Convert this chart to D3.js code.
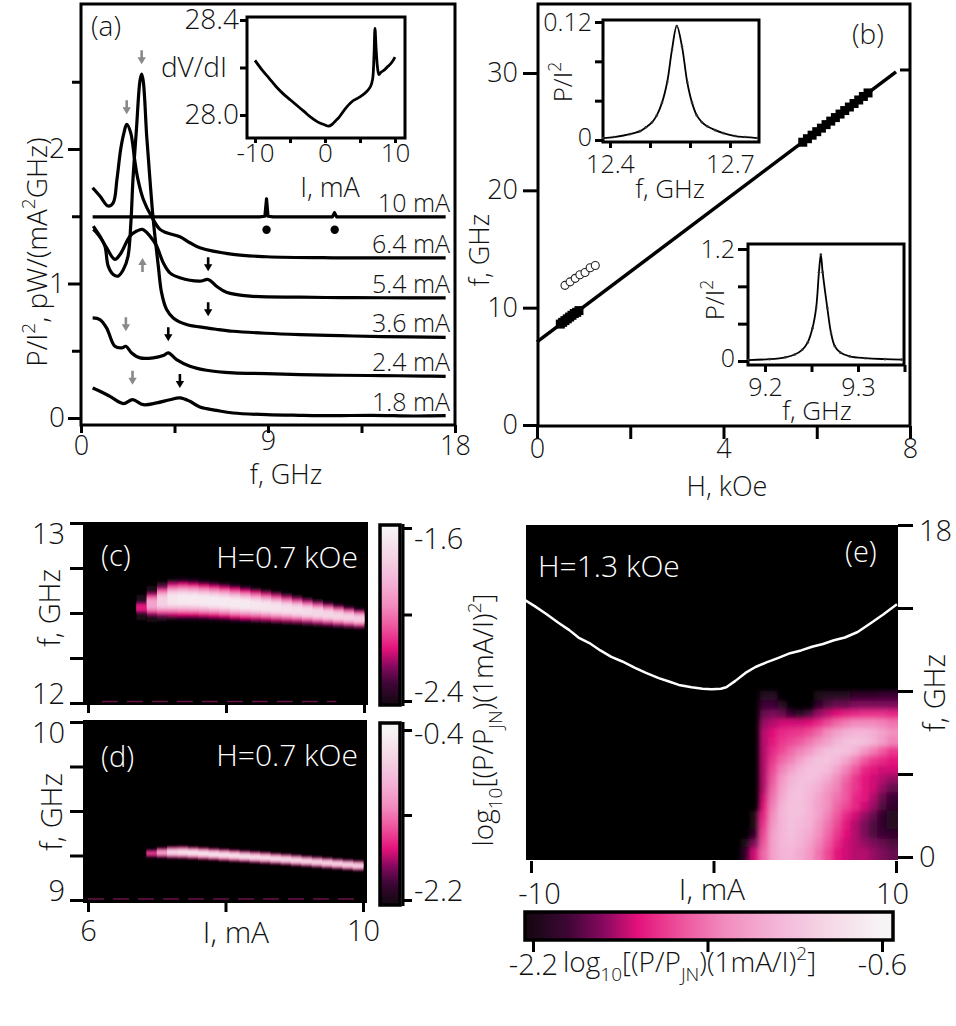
<!DOCTYPE html>
<html>
<head>
<meta charset="utf-8">
<script src="https://cdn.jsdelivr.net/npm/d3@7"></script>
<style>
  body { margin: 0; background: #fff; }
  svg text { font-family: "Open Sans", "DejaVu Sans", sans-serif; font-weight: 300; }
</style>
</head>
<body>
<svg id="fig" width="956" height="1026"></svg>
<script>
// MARK: Panel (a) spectra, P/I^2 vs f (GHz), curves offset vertically.

const curveNames = ['1.8 mA', '2.4 mA', '3.6 mA', '5.4 mA', '6.4 mA', '10 mA']

const f18 = [0.56, 0.91, 1.39, 2.04, 2.48, 3.0, 3.64, 4.28, 4.76, 5.24, 5.72, 6.52, 7.32, 8.93, 10.5, 12.13, 14.0, 16.0, 17.55]
const p18 = [0.223, 0.199, 0.161, 0.107, 0.136, 0.099, 0.112, 0.136, 0.149, 0.124, 0.082, 0.057, 0.037, 0.025, 0.02, 0.017, 0.02, 0.015, 0.017]

const f24 = [0.56, 0.91, 1.23, 1.63, 1.96, 2.16, 2.44, 2.84, 3.48, 3.96, 4.2, 4.6, 5.24, 6.04, 7.32, 8.9, 10.53, 12.5, 14.5, 16.5, 17.55]
const p24 = [0.744, 0.732, 0.67, 0.533, 0.521, 0.533, 0.484, 0.447, 0.447, 0.464, 0.484, 0.434, 0.385, 0.355, 0.335, 0.33, 0.323, 0.318, 0.315, 0.312, 0.31]

const f36 = [0.59, 0.91, 1.15, 1.31, 1.55, 1.79, 2.04, 2.26, 2.4, 2.5, 2.67, 2.84, 2.92, 3.0, 3.16, 3.32, 3.48, 3.72, 3.88, 4.12, 4.44, 5.08, 6.04, 6.5, 7.32, 8.9, 10.53, 12.5, 14.5, 17.55]
const p36 = [1.427, 1.352, 1.278, 1.129, 1.067, 1.055, 1.104, 1.2, 1.45, 1.77, 2.15, 2.51, 2.556, 2.5, 2.1, 1.77, 1.47, 1.13, 0.93, 0.806, 0.744, 0.695, 0.67, 0.66, 0.645, 0.63, 0.62, 0.612, 0.605, 0.6]

const f54 = [0.59, 0.75, 0.99, 1.23, 1.63, 1.88, 2.36, 2.68, 2.96, 3.32, 3.64, 3.96, 4.28, 4.76, 5.72, 6.12, 6.52, 7.0, 8.13, 10.53, 12.5, 14.5, 17.55]
const p54 = [1.402, 1.377, 1.328, 1.266, 1.179, 1.216, 1.352, 1.39, 1.402, 1.352, 1.278, 1.154, 1.079, 1.042, 1.017, 1.03, 0.98, 0.935, 0.906, 0.898, 0.895, 0.894, 0.893]

const f64 = [0.56, 0.91, 1.31, 1.55, 1.73, 1.91, 2.07, 2.2, 2.39, 2.58, 2.74, 3.0, 3.4, 3.8, 4.12, 4.76, 5.24, 5.72, 7.32, 8.93, 12.13, 15.0, 17.55]
const p64 = [1.712, 1.65, 1.576, 1.6, 1.774, 1.998, 2.122, 2.184, 2.122, 1.923, 1.774, 1.625, 1.496, 1.402, 1.377, 1.347, 1.303, 1.265, 1.216, 1.199, 1.191, 1.19, 1.191]

const f10 = [0.56, 8.6, 8.85, 8.93, 9.0, 9.25, 12.1, 12.2, 12.3, 17.55]
const p10 = [1.496, 1.496, 1.5, 1.63, 1.5, 1.496, 1.496, 1.526, 1.496, 1.496]

const dotF = [8.93, 12.21]
const dotP = [1.40, 1.40]

// Arrow tips (f, P/I^2), direction (1 = pointing down), gray or black.
const arrowF    = [2.92, 2.2, 2.96, 2.16, 2.48, 6.12, 6.12, 4.2, 4.76]
const arrowP    = [2.63, 2.258, 1.19, 0.645, 0.248, 1.092, 0.757, 0.571, 0.223]
const arrowDir  = [1, 1, -1, 1, 1, 1, 1, 1, 1]
const arrowGray = [true, true, true, true, true, false, false, false, false]

// Inset of (a): dV/dI vs I.
const insI = [-10, -9, -8, -7, -6, -5, -4, -3, -2, -1, 0, 0.5, 1, 1.5, 2, 3, 4, 5, 6, 6.5, 6.8, 7.0, 7.14, 7.3, 7.5, 7.7, 8, 8.5, 9, 9.5, 10]
const insV = [28.23, 28.19, 28.155, 28.12, 28.09, 28.065, 28.04, 28.015, 27.99, 27.97, 27.958, 27.953, 27.96, 27.975, 27.99, 28.03, 28.06, 28.076, 28.1, 28.12, 28.15, 28.25, 28.365, 28.28, 28.2, 28.17, 28.18, 28.19, 28.205, 28.22, 28.244]

// MARK: Panel (b) f vs H.

const sqH = [0.5, 0.55, 0.6, 0.65, 0.7, 0.75, 0.8, 0.85, 0.9, 5.7, 5.8, 5.9, 6.0, 6.1, 6.2, 6.3, 6.4, 6.5, 6.6, 6.7, 6.8, 6.9, 7.0, 7.1]
const sqF = [8.6, 8.75, 8.9, 9.05, 9.2, 9.35, 9.5, 9.6, 9.75, 24.1, 24.4, 24.7, 25.0, 25.3, 25.6, 25.9, 26.2, 26.5, 26.8, 27.1, 27.4, 27.7, 28.0, 28.3]
const circH = [0.6, 0.71, 0.82, 0.92, 1.03, 1.14, 1.25]
const circF = [11.9, 12.2, 12.5, 12.8, 13.0, 13.4, 13.6]
const fitH = [0, 7.7]
const fitF = [7.08, 30.1]

const b1F = [12.383, 12.41, 12.45, 12.475, 12.49, 12.505, 12.517, 12.53, 12.543, 12.555, 12.567, 12.58, 12.593, 12.605, 12.617, 12.63, 12.643, 12.663, 12.683, 12.713, 12.738, 12.768]
const b1P = [0.002, 0.003, 0.006, 0.009, 0.013, 0.018, 0.025, 0.038, 0.059, 0.092, 0.116, 0.095, 0.059, 0.038, 0.025, 0.018, 0.014, 0.01, 0.007, 0.004, 0.003, 0.002]

const b2F = [9.182, 9.205, 9.222, 9.232, 9.24, 9.246, 9.251, 9.255, 9.258, 9.26, 9.262, 9.267, 9.271, 9.275, 9.281, 9.291, 9.308, 9.329, 9.347]
const b2P = [0.01, 0.02, 0.04, 0.07, 0.12, 0.2, 0.35, 0.57, 0.95, 1.14, 0.95, 0.57, 0.3, 0.16, 0.09, 0.05, 0.03, 0.02, 0.015]

// MARK: Panels (c), (d): one column per current step, ridge centre, peak level, half width.

const cI    = [6.7, 6.85, 7.0, 7.15, 7.3, 7.45, 7.6, 7.75, 7.9, 8.05, 8.2, 8.35, 8.5, 8.65, 8.8, 8.95, 9.1, 9.25, 9.4, 9.55, 9.7, 9.85]
const cF    = [12.53, 12.55, 12.565, 12.575, 12.576, 12.574, 12.57, 12.566, 12.561, 12.555, 12.549, 12.543, 12.537, 12.53, 12.523, 12.516, 12.508, 12.5, 12.492, 12.484, 12.476, 12.468]
const cPeak = [-2.1, -1.85, -1.7, -1.62, -1.6, -1.6, -1.6, -1.6, -1.6, -1.6, -1.6, -1.61, -1.62, -1.63, -1.64, -1.65, -1.66, -1.67, -1.68, -1.69, -1.7, -1.71]
const cHalf = [0.07, 0.1, 0.112, 0.116, 0.116, 0.114, 0.112, 0.11, 0.108, 0.106, 0.103, 0.1, 0.097, 0.094, 0.09, 0.086, 0.082, 0.078, 0.074, 0.07, 0.066, 0.062]

const dI    = [6.85, 7.0, 7.15, 7.3, 7.45, 7.6, 7.75, 7.9, 8.05, 8.2, 8.35, 8.5, 8.65, 8.8, 8.95, 9.1, 9.25, 9.4, 9.55, 9.7, 9.85]
const dF    = [9.262, 9.266, 9.268, 9.268, 9.265, 9.261, 9.257, 9.253, 9.249, 9.245, 9.241, 9.237, 9.232, 9.228, 9.223, 9.218, 9.213, 9.208, 9.203, 9.198, 9.193]
const dPeak = [-1.4, -0.95, -0.55, -0.45, -0.42, -0.42, -0.42, -0.43, -0.44, -0.45, -0.46, -0.47, -0.48, -0.49, -0.5, -0.51, -0.52, -0.53, -0.54, -0.55, -0.56]
const dHalf = [0.03, 0.035, 0.037, 0.037, 0.036, 0.036, 0.035, 0.035, 0.035, 0.034, 0.034, 0.034, 0.033, 0.033, 0.033, 0.032, 0.032, 0.032, 0.031, 0.031, 0.031]

// MARK: Panel (e): coarse map, rows top to bottom, -3 = below scale (black).

const eCols = [1.75, 2.25, 2.75, 3.25, 3.75, 4.25, 4.75, 5.25, 5.75, 6.25, 6.75, 7.25, 7.75, 8.25, 8.75, 9.25, 9.75]
const eRows = [8.75, 8.25, 7.75, 7.25, 6.75, 6.25, 5.75, 5.25, 4.75, 4.25, 3.75, 3.25, 2.75, 2.25, 1.75, 1.25, 0.75, 0.25]
const eLevels = [
  [-3, -3, -2.15, -2.15, -3, -3, -3, -3, -2.2, -2.15, -2.15, -2.15, -2.1, -2.1, -2.1, -2.05, -2.05],
  [-3, -3, -2.05, -2.05, -2.15, -2.6, -3, -2.6, -2.1, -2.0, -1.95, -1.95, -1.9, -1.9, -1.9, -1.9, -1.9],
  [-3, -3, -1.95, -1.9, -1.95, -2.05, -2.15, -2.0, -1.85, -1.78, -1.72, -1.68, -1.65, -1.62, -1.62, -1.62, -1.65],
  [-3, -3, -1.85, -1.8, -1.75, -1.75, -1.75, -1.72, -1.65, -1.55, -1.45, -1.38, -1.32, -1.32, -1.32, -1.35, -1.4],
  [-3, -3, -1.8, -1.72, -1.65, -1.62, -1.6, -1.55, -1.45, -1.32, -1.2, -1.12, -1.08, -1.08, -1.12, -1.2, -1.3],
  [-3, -3, -1.8, -1.7, -1.6, -1.55, -1.5, -1.4, -1.3, -1.2, -1.08, -1.0, -0.98, -1.02, -1.1, -1.22, -1.35],
  [-3, -3, -1.8, -1.65, -1.55, -1.45, -1.35, -1.25, -1.12, -1.02, -0.98, -1.0, -1.1, -1.25, -1.38, -1.5, -1.6],
  [-3, -3, -1.8, -1.6, -1.45, -1.35, -1.2, -1.08, -1.0, -0.98, -1.05, -1.18, -1.35, -1.5, -1.6, -1.65, -1.7],
  [-3, -3, -1.8, -1.55, -1.35, -1.2, -1.08, -1.0, -1.0, -1.05, -1.18, -1.35, -1.5, -1.65, -1.7, -1.75, -1.75],
  [-3, -3, -1.8, -1.5, -1.25, -1.1, -1.02, -1.0, -1.05, -1.15, -1.3, -1.45, -1.6, -1.7, -1.75, -1.8, -1.85],
  [-3, -3, -1.8, -1.45, -1.2, -1.05, -1.0, -1.05, -1.12, -1.25, -1.35, -1.5, -1.6, -1.7, -1.75, -1.85, -1.95],
  [-3, -3, -1.75, -1.4, -1.15, -1.02, -1.0, -1.08, -1.18, -1.3, -1.4, -1.5, -1.65, -1.7, -1.8, -1.95, -2.05],
  [-3, -2.5, -1.7, -1.35, -1.1, -1.0, -1.0, -1.08, -1.2, -1.3, -1.45, -1.55, -1.65, -1.75, -1.85, -2.0, -2.1],
  [-3, -2.4, -1.65, -1.3, -1.08, -1.0, -1.02, -1.1, -1.2, -1.35, -1.5, -1.65, -1.75, -1.85, -1.95, -2.1, -2.15],
  [-3, -2.3, -1.6, -1.25, -1.08, -1.0, -1.05, -1.1, -1.25, -1.4, -1.55, -1.7, -1.8, -1.9, -2.0, -2.1, -2.15],
  [-2.6, -2.1, -1.55, -1.2, -1.08, -1.02, -1.08, -1.15, -1.3, -1.45, -1.6, -1.72, -1.8, -1.9, -2.0, -2.05, -2.1],
  [-2.3, -1.9, -1.5, -1.2, -1.08, -1.05, -1.1, -1.2, -1.35, -1.5, -1.65, -1.75, -1.8, -1.85, -1.9, -1.95, -2.0],
  [-2.1, -1.75, -1.45, -1.2, -1.1, -1.08, -1.15, -1.25, -1.4, -1.55, -1.7, -1.75, -1.8, -1.8, -1.85, -1.9, -1.95],
]

// White line in (e).
const eI = [-10.35, -9.8, -9.2, -8.5, -7.9, -7.4, -6.8, -6.2, -5.6, -5.0, -4.3, -3.7, -3.0, -2.4, -1.9, -1.2, -0.6, -0.1, 0.4, 0.7, 1.2, 1.75, 2.3, 2.9, 3.56, 4.2, 4.8, 5.4, 6.0, 6.6, 7.2, 7.9, 8.65, 9.3, 10.05]
const eF = [13.94, 13.6, 13.2, 12.7, 12.3, 11.9, 11.6, 11.2, 10.85, 10.6, 10.25, 9.98, 9.7, 9.5, 9.33, 9.2, 9.12, 9.1, 9.12, 9.2, 9.55, 9.98, 10.3, 10.55, 10.8, 11.05, 11.2, 11.4, 11.55, 11.75, 11.9, 12.2, 12.7, 13.15, 13.7]

// MARK: Setup.

const FONT = 27
const svg  = d3.select('#fig')
const defs = svg.append('defs')
svg.append('rect').attr('width', 956).attr('height', 1026).attr('fill', '#fff')

const cmap = d3.scaleLinear()
  .domain([0, 0.1, 0.2, 0.3, 0.42, 0.55, 0.7, 0.85, 1])
  .range(['#1a0716', '#3e0636', '#86085f', '#e3117b', '#ee519b', '#f28cbe', '#f4b6d8', '#f5d8e6', '#f7f4f6'])
  .clamp(true)

function rich(g, x, y, parts, opt = {}) {
  const size = opt.size || FONT
  const t = g.append('text')
    .attr('x', x).attr('y', y)
    .attr('font-size', size)
    .attr('text-anchor', opt.anchor || 'start')
    .attr('fill', opt.fill || '#111')
  if (opt.rotate) t.attr('transform', `rotate(${opt.rotate},${x},${y})`)
  let shift = 0
  for (const p of parts) {
    const [s, kind] = typeof p === 'string' ? [p, null] : p
    const off = kind === 'sup' ? -0.42 * size : kind === 'sub' ? 0.32 * size : 0
    t.append('tspan')
      .attr('dy', off - shift)
      .attr('font-size', kind ? size * 0.68 : size)
      .text(s)
    shift = off
  }
  return t
}

function axis(g, gen, x, y, size = FONT) {
  const a = g.append('g').attr('transform', `translate(${x},${y})`).call(gen)
  a.select('.domain').remove()
  a.selectAll('.tick line').attr('stroke', '#000').attr('stroke-width', 3)
  a.selectAll('.tick text').attr('font-size', size).attr('fill', '#111')
  return a
}

function frame(g, x0, y0, x1, y1, fill = 'none', w = 3) {
  g.append('rect')
    .attr('x', x0).attr('y', y0)
    .attr('width', x1 - x0).attr('height', y1 - y0)
    .attr('fill', fill).attr('stroke', '#000').attr('stroke-width', w)
}

function label(only) {
  return (d) => only.includes(d) ? String(d) : ''
}

// MARK: Panel (a).

const gA = svg.append('g')
const xA = d3.scaleLinear([0, 18], [81, 455])
const yA = d3.scaleLinear([0, 2], [418, 149])

const smoothA = d3.line().x((d) => xA(d[0])).y((d) => yA(d[1])).curve(d3.curveCatmullRom.alpha(0.5))
const straightA = d3.line().x((d) => xA(d[0])).y((d) => yA(d[1]))
const curvesA = [[f18, p18], [f24, p24], [f36, p36], [f54, p54], [f64, p64], [f10, p10]]
curvesA.forEach(([f, p], i) => {
  const pts = d3.zip(f, p)
  gA.append('path')
    .attr('d', i === 5 ? straightA(pts) : smoothA(pts))
    .attr('fill', 'none').attr('stroke', '#000')
    .attr('stroke-width', 3.2).attr('stroke-linejoin', 'round')
  gA.append('text')
    .attr('x', 450).attr('y', yA(p[p.length - 1]) - 5)
    .attr('text-anchor', 'end').attr('font-size', 25).attr('fill', '#111')
    .text(curveNames[i])
})

gA.selectAll('circle.dot').data(d3.zip(dotF, dotP)).enter()
  .append('circle')
  .attr('cx', (d) => xA(d[0])).attr('cy', (d) => yA(d[1])).attr('r', 4.2)
  .attr('fill', '#000')

arrowF.forEach((f, i) => {
  const x = xA(f), y = yA(arrowP[i]), s = arrowDir[i]
  const L = 14, hl = 7, hw = 4.2, sw = 1.3
  gA.append('path')
    .attr('d', `M${x - sw},${y - s * L} L${x + sw},${y - s * L} L${x + sw},${y - s * hl} L${x + hw},${y - s * hl}
      L${x},${y} L${x - hw},${y - s * hl} L${x - sw},${y - s * hl} Z`)
    .attr('fill', arrowGray[i] ? '#8a8a8a' : '#000')
})

frame(gA, 81, 4, 455, 425)
axis(gA, d3.axisLeft(yA).tickValues([0, 1, 2]).tickSize(13).tickPadding(3).tickFormat(String), 81, 0, 28)
axis(gA, d3.axisLeft(yA).tickValues([0.5, 1.5, 2.5]).tickSize(9).tickFormat(''), 81, 0)
axis(gA, d3.axisBottom(xA).tickValues([0, 9, 18]).tickSize(8).tickPadding(3).tickFormat(String), 0, 425, 27)
  .selectAll('.tick text').attr('dy', (d) => d === 9 ? '0.5em' : '0.71em')
axis(gA, d3.axisBottom(xA).tickValues([4.5, 13.5]).tickSize(8).tickFormat(''), 0, 425)
rich(gA, 286, 484, ['f, GHz'], { anchor: 'middle', size: 27 })
rich(gA, 47, 252, ['P/I', ['2', 'sup'], ', pW/(mA', ['2', 'sup'], 'GHz)'], { anchor: 'middle', rotate: -90, size: 28 })
rich(gA, 91, 36, ['(a)'], { size: 28 })

// Inset of (a).
const xIn = d3.scaleLinear([-10, 10], [255, 395])
const yIn = d3.scaleLinear([28.0, 28.4], [115, 20])
frame(gA, 247, 17, 405, 138, '#fff')
gA.append('path')
  .attr('d', d3.line().x((d) => xIn(d[0])).y((d) => yIn(d[1])).curve(d3.curveCatmullRom.alpha(0.5))(d3.zip(insI, insV)))
  .attr('fill', 'none').attr('stroke', '#000').attr('stroke-width', 2.8).attr('stroke-linejoin', 'round')
axis(gA, d3.axisLeft(yIn).tickValues([28.0, 28.2, 28.4]).tickSize(7).tickPadding(1)
  .tickFormat((d) => d === 28.2 ? '' : d.toFixed(1)), 247, 0, 28)
axis(gA, d3.axisBottom(xIn).tickValues([-10, -5, 0, 5, 10]).tickSize(5).tickPadding(1)
  .tickFormat(label([-10, 0, 10])), 0, 138, 26)
rich(gA, 227, 77, ['dV/dI'], { anchor: 'end', size: 28 })
rich(gA, 330, 197, ['I, mA'], { anchor: 'middle', size: 27 })

// MARK: Panel (b).

const gB = svg.append('g')
const xB = d3.scaleLinear([0, 8], [537, 910])
const yB = d3.scaleLinear([0, 30], [425, 73])

gB.append('path')
  .attr('d', d3.line().x((d) => xB(d[0])).y((d) => yB(d[1]))(d3.zip(fitH, fitF)))
  .attr('stroke', '#000').attr('stroke-width', 3.5)
gB.selectAll('rect.sq').data(d3.zip(sqH, sqF)).enter()
  .append('rect')
  .attr('x', (d) => xB(d[0]) - 4.5).attr('y', (d) => yB(d[1]) - 4.5)
  .attr('width', 9).attr('height', 9).attr('fill', '#000')
gB.selectAll('circle.open').data(d3.zip(circH, circF)).enter()
  .append('circle')
  .attr('cx', (d) => xB(d[0])).attr('cy', (d) => yB(d[1])).attr('r', 4)
  .attr('fill', '#fff').attr('stroke', '#222').attr('stroke-width', 1.1)

frame(gB, 538, 4, 910, 426)
axis(gB, d3.axisLeft(yB).tickValues([0, 10, 20, 30]).tickSize(15).tickPadding(5).tickFormat(String), 538, 0, 27)
axis(gB, d3.axisLeft(yB).tickValues([30.3]).tickSize(10).tickFormat(''), 910, 0)
axis(gB, d3.axisBottom(xB).tickValues([0, 2, 4, 6, 8]).tickSize(13).tickPadding(3).tickFormat(label([0, 4, 8])), 0, 426, 27)
  .selectAll('.tick text').attr('dy', '0.6em')
rich(gB, 727, 496, ['H, kOe'], { anchor: 'middle', size: 27 })
rich(gB, 489, 250, ['f, GHz'], { anchor: 'middle', rotate: -90, size: 27 })
rich(gB, 852, 44, ['(b)'], { size: 28 })

// Upper inset of (b).
const xB1 = d3.scaleLinear([12.4, 12.7], [610, 730])
const yB1 = d3.scaleLinear([0, 0.12], [140, 22])
frame(gB, 603, 20, 759, 142, '#fff')
gB.append('path')
  .attr('d', d3.line().x((d) => xB1(d[0])).y((d) => yB1(d[1])).curve(d3.curveCatmullRom.alpha(0.5))(d3.zip(b1F, b1P)))
  .attr('fill', 'none').attr('stroke', '#000').attr('stroke-width', 1.8)
gB.selectAll('circle.b1').data(d3.zip(b1F, b1P)).enter()
  .append('circle')
  .attr('cx', (d) => xB1(d[0])).attr('cy', (d) => yB1(d[1])).attr('r', 1.3).attr('fill', '#333')
axis(gB, d3.axisLeft(yB1).tickValues([0, 0.04, 0.08, 0.12]).tickSize(8).tickPadding(3).tickFormat(label([0, 0.12])), 603, 0, 25)
  .selectAll('.tick text').attr('dy', (d) => d === 0 ? '0.2em' : '0.32em')
axis(gB, d3.axisBottom(xB1).tickValues([12.4, 12.5, 12.6, 12.7]).tickSize(6).tickPadding(7).tickFormat(label([12.4, 12.7])), 0, 142, 25)
rich(gB, 670, 198, ['f, GHz'], { anchor: 'middle', size: 26 })
rich(gB, 572, 82, ['P/I', ['2', 'sup']], { anchor: 'middle', rotate: -90, size: 26 })

// Lower inset of (b).
const xB2 = d3.scaleLinear([9.2, 9.3], [765, 858])
const yB2 = d3.scaleLinear([0, 1.2], [361, 249])
frame(gB, 748, 244, 904, 365, '#fff')
gB.append('path')
  .attr('d', d3.line().x((d) => xB2(d[0])).y((d) => yB2(d[1])).curve(d3.curveCatmullRom.alpha(0.5))(d3.zip(b2F, b2P)))
  .attr('fill', 'none').attr('stroke', '#000').attr('stroke-width', 1.8)
gB.selectAll('circle.b2').data(d3.zip(b2F, b2P)).enter()
  .append('circle')
  .attr('cx', (d) => xB2(d[0])).attr('cy', (d) => yB2(d[1])).attr('r', 1.3).attr('fill', '#333')
axis(gB, d3.axisLeft(yB2).tickValues([0, 0.4, 0.8, 1.2]).tickSize(10).tickPadding(3).tickFormat(label([0, 1.2])), 748, 0, 25)
  .selectAll('.tick text').attr('dy', (d) => d === 0 ? '0.2em' : '0.32em')
axis(gB, d3.axisBottom(xB2).tickValues([9.2, 9.25, 9.3, 9.35]).tickSize(7).tickPadding(6).tickFormat(label([9.2, 9.3])), 0, 365, 25)
rich(gB, 817, 420, ['f, GHz'], { anchor: 'middle', size: 26 })
rich(gB, 724, 300, ['P/I', ['2', 'sup']], { anchor: 'middle', rotate: -90, size: 26 })

// MARK: Maps helpers.

function bandMap(g, xs, ys, I, F, peak, half, lo, hi, step, clipId, box) {
  const span = hi - lo
  const layers = [[1.0, 0.95], [0.8, 0.7], [0.62, 0.45], [0.45, 0.22], [0.28, 0.06]]
  defs.append('clipPath').attr('id', clipId).append('rect')
    .attr('x', box[0]).attr('y', box[1]).attr('width', box[2] - box[0]).attr('height', box[3] - box[1])
  const cells = g.append('g').attr('clip-path', `url(#${clipId})`)
    .append('g').attr('filter', 'url(#vblur)')
  // Paint layer by layer so that no outer layer covers a neighbour's core.
  layers.forEach(([frac, drop]) => {
    I.forEach((i0, k) => {
      const yTop = ys(F[k] + half[k] * frac), yBot = ys(F[k] - half[k] * frac)
      cells.append('rect')
        .attr('x', xs(i0)).attr('width', xs(i0 + step) - xs(i0) + 0.4)
        .attr('y', yTop).attr('height', yBot - yTop)
        .attr('fill', cmap((peak[k] - drop * span - lo) / span))
    })
  })
}

function vColorbar(g, x, y0, y1, cb, lo, hi, id) {
  const grad = defs.append('linearGradient').attr('id', id)
    .attr('gradientUnits', 'userSpaceOnUse')
    .attr('x1', 0).attr('x2', 0).attr('y1', cb(lo)).attr('y2', cb(hi))
  d3.range(0, 1.001, 0.05).forEach((t) => grad.append('stop').attr('offset', t).attr('stop-color', cmap(t)))
  frame(g, x, y0, x + 20, y1, `url(#${id})`, 3.5)
  g.append('line').attr('x1', x + 23).attr('x2', x + 23).attr('y1', y0 - 1).attr('y2', y1 + 1)
    .attr('stroke', '#000').attr('stroke-width', 3)
}

const vblur = defs.append('filter').attr('id', 'vblur')
  .attr('x', -0.05).attr('y', -0.5).attr('width', 1.1).attr('height', 2)
vblur.append('feGaussianBlur').attr('stdDeviation', '0.6 1.8')

// MARK: Panel (c).

const gC = svg.append('g')
const xC = d3.scaleLinear([6, 10], [88, 364])
const yC = d3.scaleLinear([12, 13], [703, 523])
gC.append('rect').attr('x', 83).attr('y', 522).attr('width', 285).attr('height', 183).attr('fill', '#000')
bandMap(gC, xC, yC, cI, cF, cPeak, cHalf, -2.4, -1.6, 0.15, 'clipC', [83, 522, 368, 705])
gC.append('line').attr('x1', xC(6.2)).attr('x2', xC(9.6)).attr('y1', yC(12.008)).attr('y2', yC(12.008))
  .attr('stroke', '#6a1048').attr('stroke-width', 1.4).attr('stroke-dasharray', '16 9')
axis(gC, d3.axisLeft(yC).tickValues([12, 12.25, 12.5, 12.75, 13]).tickSize(13).tickPadding(5).tickFormat(label([12, 13])), 83, 0, 29)
  .selectAll('.tick text').attr('dy', (d) => d === 13 ? '0.72em' : '0em')
axis(gC, d3.axisBottom(xC).tickValues([6, 8, 10]).tickSize(8).tickFormat(''), 0, 705)
rich(gC, 60, 608, ['f, GHz'], { anchor: 'middle', rotate: -90, size: 29 })
rich(gC, 101, 566, ['(c)'], { fill: '#fff', size: 29 })
rich(gC, 358, 568, ['H=0.7 kOe'], { anchor: 'end', fill: '#fff', size: 30 })

const cbC = d3.scaleLinear([-2.4, -1.6], [701, 528])
vColorbar(gC, 380, 525, 705, cbC, -2.4, -1.6, 'gradC')
axis(gC, d3.axisRight(cbC).tickValues([-2.4, -2.0, -1.6]).tickSize(9).tickPadding(2).tickFormat(label([-2.4, -1.6])), 403, 0, 29)
  .selectAll('.tick text').attr('dy', (d) => d === -1.6 ? '0.72em' : '0em')

// MARK: Panel (d).

const gD = svg.append('g')
const xD = d3.scaleLinear([6, 10], [88, 363])
const yD = d3.scaleLinear([9, 10], [900, 722])
gD.append('rect').attr('x', 83).attr('y', 720).attr('width', 284).attr('height', 183).attr('fill', '#000')
bandMap(gD, xD, yD, dI, dF, dPeak, dHalf, -2.2, -0.4, 0.15, 'clipD', [83, 720, 367, 903])
gD.append('line').attr('x1', xD(6.0)).attr('x2', xD(10)).attr('y1', yD(9.006)).attr('y2', yD(9.006))
  .attr('stroke', '#6a1048').attr('stroke-width', 1.4).attr('stroke-dasharray', '16 9')
axis(gD, d3.axisLeft(yD).tickValues([9, 9.25, 9.5, 9.75, 10]).tickSize(13).tickPadding(5).tickFormat(label([9, 10])), 83, 0, 29)
  .selectAll('.tick text').attr('dy', (d) => d === 10 ? '0.72em' : '0em')
axis(gD, d3.axisBottom(xD).tickValues([6, 8, 10]).tickSize(9).tickPadding(8).tickFormat(label([6, 10])), 0, 903, 29)
rich(gD, 62, 812, ['f, GHz'], { anchor: 'middle', rotate: -90, size: 29 })
rich(gD, 236, 943, ['I, mA'], { anchor: 'middle', size: 30 })
rich(gD, 101, 767, ['(d)'], { fill: '#fff', size: 29 })
rich(gD, 358, 766, ['H=0.7 kOe'], { anchor: 'end', fill: '#fff', size: 30 })

const cbD = d3.scaleLinear([-2.2, -0.4], [900, 730])
vColorbar(gD, 380, 723, 905, cbD, -2.2, -0.4, 'gradD')
axis(gD, d3.axisRight(cbD).tickValues([-2.2, -1.3, -0.4]).tickSize(9).tickPadding(2).tickFormat(label([-2.2, -0.4])), 403, 0, 29)
  .selectAll('.tick text').attr('dy', (d) => d === -0.4 ? '0.48em' : '0em')

rich(svg, 493, 720, ['log', ['10', 'sub'], '[(P/P', ['JN', 'sub'], ')(1mA/I)', ['2', 'sup'], ']'], { anchor: 'middle', rotate: -90, size: 28 })

// MARK: Panel (e).

const gE = svg.append('g')
const xE = d3.scaleLinear([-10, 10], [531, 896])
const yE = d3.scaleLinear([0, 18], [857, 525])
gE.append('rect').attr('x', 526).attr('y', 525).attr('width', 372).attr('height', 335).attr('fill', '#000')

defs.append('clipPath').attr('id', 'clipE').append('rect')
  .attr('x', 526).attr('y', 525).attr('width', 372).attr('height', 335)
const eblur = defs.append('filter').attr('id', 'eblur')
eblur.append('feGaussianBlur').attr('stdDeviation', 2.8)
const eCells = gE.append('g').attr('clip-path', 'url(#clipE)').append('g').attr('filter', 'url(#eblur)')
const lastCol = eCols[eCols.length - 1], lastRow = eRows[eRows.length - 1]
eRows.forEach((f, r) => {
  eCols.forEach((I, c) => {
    const v = eLevels[r][c]
    if (v < -2.45) return
    const x0 = xE(I - 0.25), x1 = xE(I + 0.25 + (I === lastCol ? 0.8 : 0))
    const y0 = yE(f + 0.25), y1 = yE(f - 0.25 - (f === lastRow ? 0.8 : 0))
    eCells.append('rect')
      .attr('x', x0).attr('y', y0).attr('width', x1 - x0 + 0.6).attr('height', y1 - y0 + 0.6)
      .attr('fill', cmap((v + 2.2) / 1.6))
  })
})

gE.append('path')
  .attr('d', d3.line().x((d) => xE(d[0])).y((d) => yE(d[1]))(d3.zip(eI, eF)))
  .attr('fill', 'none').attr('stroke', '#fff').attr('stroke-width', 2.5).attr('stroke-linejoin', 'round')

axis(gE, d3.axisRight(yE).tickValues([0, 4.5, 9, 13.5, 18]).tickSize(15).tickPadding(6).tickFormat(label([0, 18])), 898, 0, 29)
  .selectAll('.tick text').attr('dy', (d) => d === 18 ? '0.55em' : '0.32em')
axis(gE, d3.axisBottom(xE).tickValues([-10, 0, 10]).tickSize(12).tickPadding(10).tickFormat(label([-10, 10])), 0, 861, 29)
  .selectAll('.tick text').attr('dx', (d) => d === -10 ? 8 : -4)
rich(gE, 712, 900, ['I, mA'], { anchor: 'middle', size: 30 })
rich(gE, 945, 693, ['f, GHz'], { anchor: 'middle', rotate: -90, size: 29 })
rich(gE, 538, 577, ['H=1.3 kOe'], { fill: '#fff', size: 30 })
rich(gE, 845, 562, ['(e)'], { fill: '#fff', size: 29 })

const cbE = d3.scaleLinear([-2.2, -0.6], [533, 882])
const gradE = defs.append('linearGradient').attr('id', 'gradE')
  .attr('gradientUnits', 'userSpaceOnUse')
  .attr('x1', cbE(-2.2)).attr('x2', cbE(-0.6)).attr('y1', 0).attr('y2', 0)
d3.range(0, 1.001, 0.05).forEach((t) => gradE.append('stop').attr('offset', t).attr('stop-color', cmap(t)))
frame(gE, 525, 912, 893, 940, 'url(#gradE)', 3.5)
axis(gE, d3.axisBottom(cbE).tickValues([-2.2, -1.4, -0.6]).tickSize(12).tickPadding(2).tickFormat(label([-2.2, -0.6])), 0, 940, 29)
rich(gE, 563, 972, ['log', ['10', 'sub'], '[(P/P', ['JN', 'sub'], ')(1mA/I)', ['2', 'sup'], ']'], { size: 28 })
</script>
</body>
</html>
